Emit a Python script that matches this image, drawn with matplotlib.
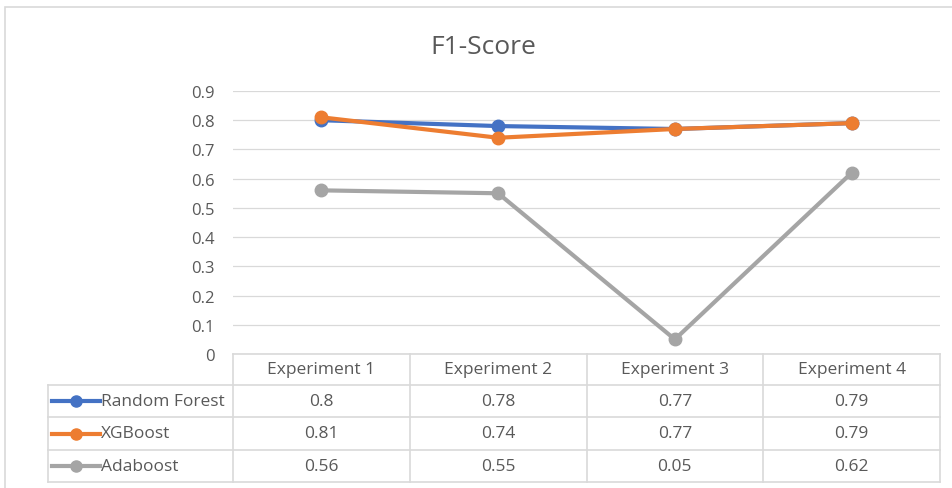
import matplotlib.pyplot as plt
from matplotlib.patches import Rectangle
from matplotlib.transforms import blended_transform_factory

plt.rcParams['font.family'] = ['Open Sans', 'DejaVu Sans']

# data
experiments = ['Experiment 1', 'Experiment 2', 'Experiment 3', 'Experiment 4']
models = ['Random Forest', 'XGBoost', 'Adaboost']
random_forest = [0.8, 0.78, 0.77, 0.79]
xgboost = [0.81, 0.74, 0.77, 0.79]
adaboost = [0.56, 0.55, 0.05, 0.62]
series = [random_forest, xgboost, adaboost]
colors = ['#4472C4', '#ED7D31', '#A5A5A5']
yticks = [0, 0.1, 0.2, 0.3, 0.4, 0.5, 0.6, 0.7, 0.8, 0.9]

W, H = 952, 489
fig = plt.figure(figsize=(W / 100, H / 100), dpi=100)

# outer chart border
fig.patches.append(Rectangle((5 / W, -0.1), 1.2, (H - 8) / H + 0.1, transform=fig.transFigure,
                             fill=False, edgecolor='#D9D9D9', lw=1.2))

left, right, top, bottom = 233, 940, 92, 355
ax = fig.add_axes([left / W, 1 - bottom / H, (right - left) / W, (bottom - top) / H])
ax.set_xlim(-0.5, len(experiments) - 0.5)
ax.set_ylim(0, 0.9)
for s in ax.spines.values():
    s.set_visible(False)
ax.set_yticks(yticks)
ax.set_yticklabels([f'{v:g}' for v in yticks])
ax.tick_params(axis='y', length=0, pad=13, labelsize=12, labelcolor='#595959')
ax.set_xticks([])
ax.grid(axis='y', color='#D9D9D9', lw=0.9)
ax.set_axisbelow(True)

x = list(range(len(experiments)))
for vals, c, name in zip(series, colors, models):
    ax.plot(x, vals, color=c, lw=3, marker='o', ms=9, label=name, clip_on=False)

fig.text(483 / W, 1 - 47 / H, 'F1-Score', ha='center', va='center',
         fontsize=19, color='#595959')

# data table under the axis
tr = blended_transform_factory(ax.transData, ax.transAxes)
ah = bottom - top
row_px = [355, 386, 418, 451, 483]
row_y = [-(r - bottom) / ah for r in row_px]
px_per_cat = (right - left) / len(experiments)
x_lab_left = -0.5 - (left - 48) / px_per_cat
lc = '#D9D9D9'
lkw = dict(color=lc, lw=1.2, transform=tr, clip_on=False)

ax.plot([-0.5, len(experiments) - 0.5], [row_y[0], row_y[0]], **lkw)
for yy in row_y[1:]:
    ax.plot([x_lab_left, len(experiments) - 0.5], [yy, yy], **lkw)
for i in range(len(experiments) + 1):
    ax.plot([i - 0.5, i - 0.5], [row_y[0], row_y[-1]], **lkw)
ax.plot([x_lab_left, x_lab_left], [row_y[1], row_y[-1]], **lkw)

for i, e in enumerate(experiments):
    ax.text(i, (row_y[0] + row_y[1]) / 2, e, ha='center', va='center', fontsize=12.5,
            color='#595959', transform=tr)

key_x0 = x_lab_left + 4 / px_per_cat
key_x1 = x_lab_left + 52 / px_per_cat
for r, (vals, c, name) in enumerate(zip(series, colors, models)):
    yc = (row_y[r + 1] + row_y[r + 2]) / 2
    ax.plot([key_x0, key_x1], [yc, yc], color=c, lw=3, transform=tr, clip_on=False)
    ax.plot([(key_x0 + key_x1) / 2], [yc], 'o', color=c, ms=8, transform=tr, clip_on=False)
    ax.text(key_x1 + 1 / px_per_cat, yc, name, ha='left', va='center', fontsize=12.5,
            color='#595959', transform=tr)
    for i, v in enumerate(vals):
        ax.text(i, yc, f'{v:g}', ha='center', va='center', fontsize=12.5,
                color='#595959', transform=tr)

fig.savefig('out.png', dpi=100)
